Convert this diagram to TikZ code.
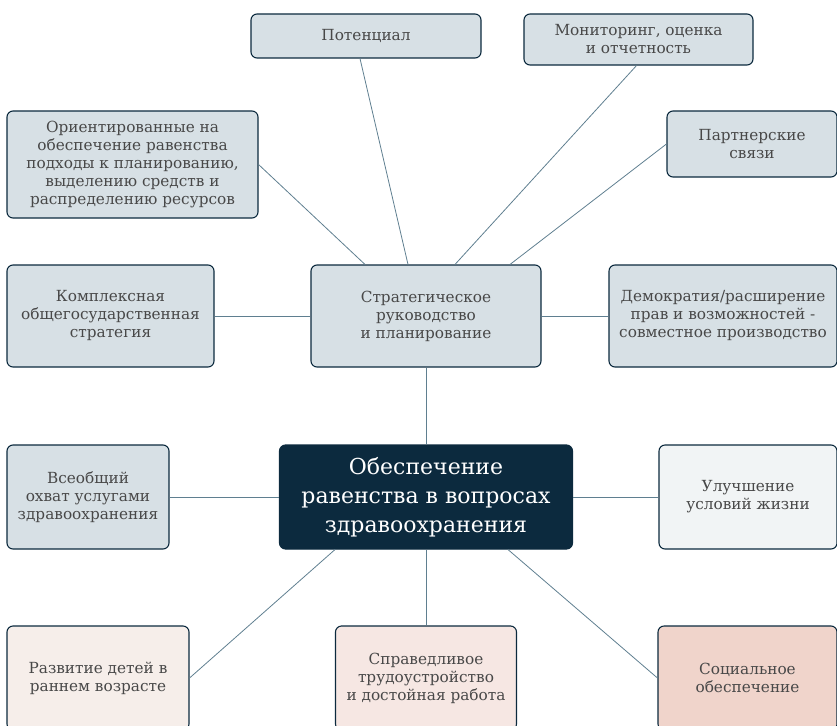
\documentclass[tikz,border=0pt]{standalone}
\usepackage{fontspec}
\setmainfont{DejaVu Serif}
\usepackage{tikz}
\definecolor{navy}{HTML}{0C2A3E}
\definecolor{pale}{HTML}{D7E0E5}
\definecolor{linkc}{HTML}{5F7F90}
\definecolor{txtc}{HTML}{484848}
\definecolor{mist}{HTML}{F1F4F5}
\definecolor{sand}{HTML}{F6EEEA}
\definecolor{blush}{HTML}{F6E7E3}
\definecolor{rose}{HTML}{F0D4CB}
\tikzstyle{box}=[draw=navy, fill=pale, line width=1.1pt, rounded corners=6pt, align=center, inner sep=1pt, text=txtc, font=\fontsize{15.3}{18}\selectfont]
\tikzstyle{hub}=[box, fill=navy, text=white, font=\fontsize{22}{29}\selectfont]
\tikzstyle{link}=[draw=linkc, line width=0.8pt]

\begin{document}
\begin{tikzpicture}[x=1pt, y=-1pt]
        \useasboundingbox (0,0) rectangle (837,725);
        \clip (0,0) rectangle (837,725);
        % top row
        \node[box, minimum width=230pt, minimum height=44pt] (pot) at (366,36) {Потенциал};
        \node[box, minimum width=229pt, minimum height=51pt] (mon) at (638.5,39.5) {Мониторинг, оценка\\и отчетность};
        \node[box, minimum width=251pt, minimum height=107pt] (ori) at (132.5,164.5) {Ориентированные на\\обеспечение равенства\\подходы к планированию,\\выделению средств и\\распределению ресурсов};
        \node[box, minimum width=170pt, minimum height=66pt] (part) at (752,144) {Партнерские\\связи};
        % middle row
        \node[box, minimum width=207pt, minimum height=102pt] (kompl) at (110.5,316) {Комплексная\\общегосударственная\\стратегия};
        \node[box, minimum width=230pt, minimum height=102pt] (strat) at (426,316) {Стратегическое\\руководство\\и планирование};
        \node[box, minimum width=228pt, minimum height=102pt] (demo) at (723,316) {Демократия/расширение\\прав и возможностей -\\совместное производство};
        % centre row
        \node[box, minimum width=162pt, minimum height=104pt] (vseob) at (88,497) {Всеобщий\\охват услугами\\здравоохранения};
        \node[hub, minimum width=293pt, minimum height=104pt] (main) at (426,497) {Обеспечение\\равенства в вопросах\\здравоохранения};
        \node[box, fill=mist, minimum width=178pt, minimum height=104pt] (uluch) at (748,497) {Улучшение\\условий жизни};
        % bottom row
        \node[box, fill=sand, minimum width=182pt, minimum height=104pt] (razv) at (98,678) {Развитие детей в\\раннем возрасте};
        \node[box, fill=blush, minimum width=181pt, minimum height=104pt] (sprav) at (426,678) {Справедливое\\трудоустройство\\и достойная работа};
        \node[box, fill=rose, minimum width=179pt, minimum height=104pt] (soc) at (747.5,678) {Социальное\\обеспечение};
        % links
        \draw[link] ([xshift=-6pt]pot.south) -- ([xshift=-18pt]strat.north);
        \draw[link] ([xshift=-2pt]mon.south) -- ([xshift=29pt]strat.north);
        \draw[link] (ori.east) -- ([xshift=-61pt]strat.north);
        \draw[link] (part.west) -- ([xshift=84pt]strat.north);
        \draw[link] (kompl.east) -- (strat.west);
        \draw[link] (strat.east) -- (demo.west);
        \draw[link] (strat.south) -- (main.north);
        \draw[link] (vseob.east) -- (main.west);
        \draw[link] (main.east) -- (uluch.west);
        \draw[link] ([xshift=-91pt]main.south) -- (razv.east);
        \draw[link] (main.south) -- (sprav.north);
        \draw[link] ([xshift=82pt]main.south) -- (soc.west);
    \end{tikzpicture}
\end{document}
